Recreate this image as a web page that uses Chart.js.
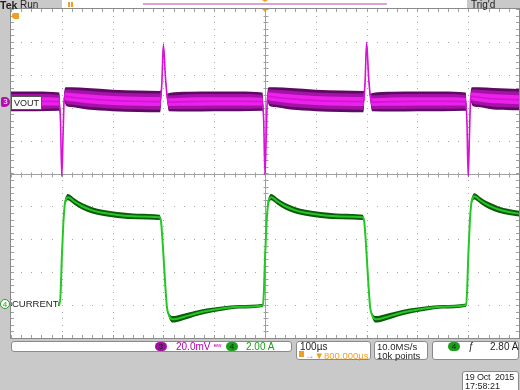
<!DOCTYPE html>
<html>
<head>
<meta charset="utf-8">
<script src="https://cdn.jsdelivr.net/npm/chart.js@4.4.1/dist/chart.umd.min.js"></script>
<style>
body{margin:0;background:#c9c9c9;overflow:hidden;font-family:"Liberation Sans",Arial,sans-serif;}
#wrap{position:relative;width:520px;height:390px;}
#scope{position:absolute;left:0;top:0;}
.t{position:absolute;white-space:nowrap;font-size:10px;line-height:10px;color:#1e1e1e;}
.box{position:absolute;background:#fff;border:1px solid #8a8a8a;border-radius:3px;box-sizing:border-box;}
.pill{position:absolute;border-radius:5px;font-size:8px;line-height:9px;text-align:center;color:#1a1a1a;}
</style>
</head>
<body>
<div id="wrap">
<canvas id="scope" width="520" height="390"></canvas>

<!-- top status bar -->
<div class="t" style="left:0;top:0;font-weight:bold;font-size:10.5px;">Tek</div>
<div class="t" style="left:20px;top:0;">Run</div>
<div style="position:absolute;left:62px;top:0;width:405px;height:8px;background:#fff;"></div>
<div style="position:absolute;left:143px;top:3px;width:244px;height:2px;background:#d9a3d9;"></div>
<div style="position:absolute;left:68px;top:2px;width:2px;height:5px;background:#f0a020;"></div>
<div style="position:absolute;left:71px;top:2px;width:2px;height:5px;background:#f0a020;"></div>
<div style="position:absolute;left:262px;top:0;width:0;height:0;border-left:3px solid transparent;border-right:3px solid transparent;border-top:2px solid #f0a020;"></div>
<div style="position:absolute;left:262px;top:9px;width:0;height:0;border-left:3px solid transparent;border-right:3px solid transparent;border-top:3px solid #f0a020;"></div>
<div class="t" style="left:471px;top:0;">Trig'd</div>
<div style="position:absolute;left:12px;top:13px;width:7px;height:6px;background:#f0a020;border-radius:2px 1px 1px 3px;"></div>

<!-- channel markers -->
<div class="pill" style="left:1px;top:97px;width:9px;height:10px;background:#b010b0;color:#fff;border-radius:2px 5px 5px 2px;">3</div>
<div class="t" style="left:11px;top:96px;height:11px;padding:1px 2px 0 2px;background:#fff;border:1px solid #555;font-size:9px;">VOUT</div>
<div class="pill" style="left:0;top:299px;width:8px;height:8px;border:1px solid #20a020;color:#20a020;background:#fff;">4</div>
<div class="t" style="left:12px;top:299px;background:#fff;font-size:9.5px;">CURRENT</div>

<!-- bottom readouts -->
<div class="box" style="left:11px;top:341px;width:281px;height:11px;"></div>
<div class="pill" style="left:155px;top:342px;width:12px;height:9px;background:#a010a0;">3</div>
<div class="t" style="left:176px;top:342px;color:#b000b0;">20.0mV</div>
<div class="t" style="left:214px;top:342px;color:#b000b0;font-size:7px;">ᴮᵂ</div>
<div class="pill" style="left:226px;top:342px;width:12px;height:9px;background:#18a018;">4</div>
<div class="t" style="left:246px;top:342px;color:#18a018;">2.00 A</div>

<div class="box" style="left:296px;top:341px;width:75px;height:19px;"></div>
<div class="t" style="left:300px;top:342px;">100µs</div>
<div style="position:absolute;left:299px;top:351px;width:5px;height:6px;background:#f0a020;"></div>
<div class="t" style="left:305px;top:351px;color:#f0a020;font-size:9.5px;">→▼800.000µs</div>

<div class="box" style="left:374px;top:341px;width:54px;height:19px;"></div>
<div class="t" style="left:377px;top:342px;font-size:9.5px;">10.0MS/s</div>
<div class="t" style="left:377px;top:351px;font-size:9.5px;">10k points</div>

<div class="box" style="left:432px;top:341px;width:87px;height:19px;"></div>
<div class="pill" style="left:448px;top:342px;width:12px;height:9px;background:#18a018;">4</div>
<div class="t" style="left:468px;top:342px;font-style:italic;">ƒ</div>
<div class="t" style="left:490px;top:342px;">2.80 A</div>

<div class="box" style="left:462px;top:371px;width:57px;height:22px;"></div>
<div class="t" style="left:465px;top:372px;font-size:9px;letter-spacing:-0.2px;">19 Oct&nbsp; 2015</div>
<div class="t" style="left:465px;top:381px;font-size:9px;">17:58:21</div>
</div>

<script>
// time axis in microseconds, 100 us/div, trigger at centre
var voutTime  = [-500,-450,-405,-402.5,-400,-397.5,-395,-392,-380,-350,-300,-250,-206,-203,-200,-196,-192,-189,-150,-100,-50,
                 -5,-2.5,0,2.5,5,8,20,50,100,150,194,197,200,204,208,211,250,300,350,
                 395,397.5,400,402.5,405,408,420,450,500];
// VOUT ripple, mV relative to the channel marker (20 mV/div)
var voutMv    = [0.5,0.5,0.3,-12,-45,-20,3,3.5,3,2,1,0.5,0.3,12,35,15,2,0,0.3,0.5,0.5,
                 0.3,-12,-44,-20,3,3.5,3,2,1,0.5,0.3,12,36,15,2,0,0.3,0.5,0.5,
                 0.3,-12,-45,-20,3,3.5,3,2,1.5];
// half-width of the noise band, mV
var voutNoise = [6,6,5.5,1,0.8,1,3,5.5,6,6.5,6.5,6.5,6.5,1,0.8,1,3,5.5,6,6,6,
                 5.5,1,0.8,1,3,5.5,6,6.5,6.5,6.5,6.5,1,0.8,1,3,5.5,6,6,6,
                 5.5,1,0.8,1,3,5.5,6,6.5,6.5];

var curTime  = [-500,-404,-402,-400,-397,-394,-391,-388,-384,-376,-360,-340,-320,-290,-250,-208,-205,-202,-199,-196,-193,-190,-186,-182,-175,-160,-140,-115,-85,-50,
                -4,-2,0,3,6,9,12,16,24,40,60,80,110,150,192,195,198,201,204,207,210,214,218,225,240,260,285,315,350,
                396,398,400,403,406,409,412,416,424,440,460,480,500];
// inductor current, A (2 A/div)
var curAmps  = [0,0,0.9,2.8,4.9,6.1,6.42,6.5,6.45,6.25,5.95,5.7,5.55,5.42,5.33,5.28,5.1,4.0,2.5,1.0,-0.2,-0.6,-0.85,-0.92,-0.9,-0.78,-0.6,-0.42,-0.27,-0.16,
                -0.08,0.9,2.8,4.9,6.1,6.42,6.5,6.45,6.25,5.95,5.7,5.55,5.42,5.33,5.28,5.1,4.0,2.5,1.0,-0.2,-0.6,-0.85,-0.92,-0.9,-0.78,-0.6,-0.42,-0.27,-0.16,
                -0.06,0.9,2.8,4.9,6.1,6.45,6.55,6.5,6.3,6.0,5.75,5.6,5.5];
var curNoise = [0.1,0.1,0.02,0.02,0.04,0.14,0.18,0.19,0.2,0.2,0.2,0.19,0.18,0.18,0.17,0.16,0.06,0.02,0.02,0.02,0.04,0.1,0.18,0.2,0.2,0.19,0.17,0.15,0.13,0.11,
                0.1,0.02,0.02,0.04,0.14,0.18,0.19,0.2,0.2,0.2,0.19,0.18,0.18,0.17,0.16,0.06,0.02,0.02,0.02,0.04,0.1,0.18,0.2,0.2,0.19,0.17,0.15,0.13,0.11,
                0.1,0.02,0.02,0.04,0.14,0.18,0.19,0.2,0.2,0.2,0.19,0.18,0.18];

var voutPos = 2.17, voutPerDiv = 20;   // marker position in divisions
var curPos = -3.97, curPerDiv = 2;

function trace(time, vals, noise, k, pos, perDiv) {
  var out = [];
  for (var i = 0; i < time.length; i++) {
    out.push({x: time[i], y: pos + (vals[i] + k * noise[i]) / perDiv});
  }
  return out;
}

function band(data, fill, color, order) {
  return {data: data, fill: fill, backgroundColor: color, borderColor: 'rgba(0,0,0,0)',
          borderWidth: 0, pointRadius: 0, cubicInterpolationMode: 'monotone', order: order};
}
function line(data, color, w, order) {
  return {data: data, fill: false, borderColor: color, borderWidth: w,
          pointRadius: 0, cubicInterpolationMode: 'monotone', order: order};
}

// higher order is painted first (underneath)
var datasets = [
  band(trace(voutTime, voutMv, voutNoise, -1, voutPos, voutPerDiv), false, 'rgba(0,0,0,0)', 10),
  band(trace(voutTime, voutMv, voutNoise, 1, voutPos, voutPerDiv), '-1', '#5e0a62', 10),
  band(trace(voutTime, voutMv, voutNoise, -0.75, voutPos, voutPerDiv), false, 'rgba(0,0,0,0)', 9),
  band(trace(voutTime, voutMv, voutNoise, 0.75, voutPos, voutPerDiv), '-1', '#a412a8', 9),
  band(trace(voutTime, voutMv, voutNoise, -0.42, voutPos, voutPerDiv), false, 'rgba(0,0,0,0)', 8),
  band(trace(voutTime, voutMv, voutNoise, 0.42, voutPos, voutPerDiv), '-1', '#ea22ea', 8),
  line(trace(voutTime, voutMv, voutNoise, 0, voutPos, voutPerDiv), '#d810d8', 1.6, 7),
  band(trace(curTime, curAmps, curNoise, -1, curPos, curPerDiv), false, 'rgba(0,0,0,0)', 6),
  band(trace(curTime, curAmps, curNoise, 1, curPos, curPerDiv), '-1', '#0c5a0c', 6),
  line(trace(curTime, curAmps, curNoise, 0, curPos, curPerDiv), '#24c824', 2, 5)
];

var scopeFrame = {
  id: 'scopeFrame',
  beforeDraw: function(chart) {
    var a = chart.chartArea, ctx = chart.ctx;
    ctx.save();
    ctx.fillStyle = '#ffffff';
    ctx.fillRect(a.left, a.top, a.right - a.left, a.bottom - a.top);
    ctx.restore();
  },
  beforeDatasetsDraw: function(chart) {
    var a = chart.chartArea, ctx = chart.ctx;
    var xs = chart.scales.x, ys = chart.scales.y;
    var cx = Math.round(xs.getPixelForValue(0)) + 0.5;
    var cy = Math.round(ys.getPixelForValue(0)) + 0.5;
    var t, d, px, py;
    ctx.save();
    // dotted graticule: a dot at every minor division along each major line
    ctx.fillStyle = '#a4a4a4';
    for (t = -400; t <= 400; t += 100) {
      if (t === 0) continue;
      px = Math.round(xs.getPixelForValue(t));
      for (d = -5; d <= 5.001; d += 0.2) {
        ctx.fillRect(px, Math.round(ys.getPixelForValue(d)), 1, 1);
      }
    }
    for (d = -4; d <= 4; d += 1) {
      if (d === 0) continue;
      py = Math.round(ys.getPixelForValue(d));
      for (t = -500; t <= 500; t += 20) {
        ctx.fillRect(Math.round(xs.getPixelForValue(t)), py, 1, 1);
      }
    }
    // centre crosshair and edge ticks
    ctx.strokeStyle = '#a0a0a0';
    ctx.lineWidth = 1;
    ctx.beginPath();
    ctx.moveTo(cx, a.top); ctx.lineTo(cx, a.bottom);
    ctx.moveTo(a.left, cy); ctx.lineTo(a.right, cy);
    for (t = -500; t <= 500; t += 20) {
      px = Math.round(xs.getPixelForValue(t)) + 0.5;
      ctx.moveTo(px, cy - 2); ctx.lineTo(px, cy + 3);
      ctx.moveTo(px, a.top); ctx.lineTo(px, a.top + 3);
      ctx.moveTo(px, a.bottom); ctx.lineTo(px, a.bottom - 3);
    }
    for (d = -5; d <= 5.001; d += 0.2) {
      py = Math.round(ys.getPixelForValue(d)) + 0.5;
      ctx.moveTo(cx - 2, py); ctx.lineTo(cx + 3, py);
      ctx.moveTo(a.left, py); ctx.lineTo(a.left + 3, py);
      ctx.moveTo(a.right, py); ctx.lineTo(a.right - 3, py);
    }
    ctx.stroke();
    ctx.strokeStyle = '#8a8a8a';
    ctx.strokeRect(Math.round(a.left) - 0.5, Math.round(a.top) - 0.5, Math.round(a.right - a.left) + 1, Math.round(a.bottom - a.top) + 1);
    ctx.restore();
  }
};

new Chart(document.getElementById('scope'), {
  type: 'line',
  data: {datasets: datasets},
  plugins: [scopeFrame],
  options: {
    responsive: false,
    animation: false,
    devicePixelRatio: 1,
    layout: {padding: {left: 11, right: 1, top: 9, bottom: 52}},
    plugins: {legend: {display: false}, tooltip: {enabled: false}},
    scales: {
      x: {
        type: 'linear', min: -500, max: 500,
        ticks: {display: false, stepSize: 100},
        grid: {display: false},
        border: {display: false},
        afterFit: function(s) { s.height = 0; }
      },
      y: {
        type: 'linear', min: -5, max: 5,
        ticks: {display: false, stepSize: 1},
        grid: {display: false},
        border: {display: false},
        afterFit: function(s) { s.width = 0; }
      }
    }
  }
});
</script>
</body>
</html>
